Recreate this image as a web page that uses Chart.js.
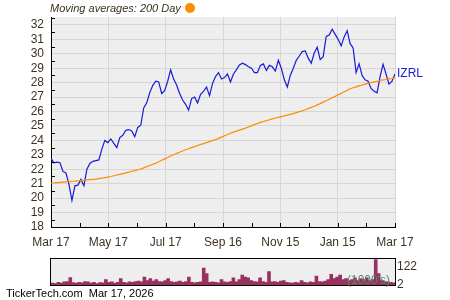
<!DOCTYPE html>
<html><head><meta charset="utf-8">
<script src="https://cdn.jsdelivr.net/npm/chart.js@4"></script>
<style>
html,body{margin:0;padding:0;background:#fff;width:450px;height:300px;overflow:hidden;font-family:"Liberation Sans",Arial,sans-serif;}
#main{position:absolute;left:0;top:0;}
#vol{position:absolute;left:0;top:250px;}
.t{position:absolute;white-space:pre;line-height:1;}
</style></head><body>
<canvas id="main" width="450" height="250"></canvas>
<canvas id="vol" width="450" height="50"></canvas>
<div class="t" style="left:50px;top:3px;font-size:11px;font-style:italic;color:#3a3020;">Moving averages: 200 Day</div>
<div style="position:absolute;left:185px;top:3px;width:10px;height:10px;border-radius:50%;background:#ff8c00;"></div>
<div class="t" style="left:6px;top:288px;font-size:11px;color:#000;">TickerTech.com  Mar 17, 2026</div>
<div class="t" style="left:347px;top:274px;font-size:12px;color:#4d8b6b;">(1000's)</div>
<script>
const symbol = 'IZRL';
const tickLabels = ['Mar 17','May 17','Jul 17','Sep 16','Nov 15','Jan 15','Mar 17'];
const price = [22.75,22.45,22.5,22.45,21.85,21.75,20.95,19.85,20.85,20.9,21.3,20.85,22.0,22.4,22.55,22.6,22.65,23.4,24.0,23.85,
24.1,23.8,23.5,24.2,24.35,24.7,24.75,24.65,24.25,24.9,25.05,26.25,26.6,27.3,27.8,28.1,28.05,27.25,27.45,28.1,
28.88,28.25,27.84,27.25,26.8,26.5,26.1,26.9,27.0,26.6,27.2,27.4,27.7,27.1,27.95,28.42,28.7,28.25,28.35,28.6,
28.05,28.6,28.9,29.23,29.35,29.25,29.1,29.0,28.7,28.7,29.2,29.3,28.85,29.2,29.1,28.8,29.55,29.0,28.2,27.7,
28.5,29.0,29.55,29.85,30.15,30.2,29.7,29.35,30.05,30.45,29.6,29.8,31.2,31.3,31.7,31.35,31.0,30.55,31.17,31.6,
30.7,30.4,28.7,29.3,28.5,28.2,28.1,27.6,27.4,27.3,28.4,29.28,28.6,27.9,28.1,28.6];
const ma200 = [21.05,21.06,21.08,21.09,21.11,21.13,21.15,21.17,21.18,21.20,21.22,21.24,21.26,21.28,21.30,21.32,21.35,21.38,21.42,21.46,
21.50,21.55,21.60,21.65,21.70,21.75,21.80,21.86,21.91,21.96,22.02,22.10,22.18,22.26,22.34,22.42,22.52,22.62,22.72,22.82,
22.92,23.01,23.10,23.18,23.27,23.35,23.42,23.50,23.57,23.65,23.72,23.78,23.85,23.92,23.98,24.05,24.14,24.23,24.32,24.41,
24.50,24.57,24.64,24.71,24.78,24.85,24.93,25.01,25.09,25.17,25.25,25.31,25.37,25.43,25.49,25.55,25.60,25.65,25.70,25.75,
25.80,25.86,25.92,25.99,26.05,26.12,26.20,26.29,26.37,26.46,26.55,26.65,26.75,26.85,26.95,27.05,27.16,27.26,27.37,27.47,
27.58,27.65,27.71,27.78,27.84,27.90,27.95,28.00,28.05,28.10,28.15,28.19,28.22,28.26,28.29,28.33];
const volume = [12,10,17,12,20,23,48,15,12,17,14,23,20,12,17,10,15,14,35,17,
20,12,17,41,17,14,20,17,23,26,20,52,29,41,26,35,23,20,29,41,
23,17,20,26,17,23,52,17,14,17,20,110,75,17,20,17,14,35,20,17,
23,46,20,35,64,52,46,29,23,20,46,23,17,87,20,23,17,26,29,17,
14,12,17,14,29,17,14,20,17,58,23,20,26,35,70,41,52,64,35,41,
29,35,46,29,41,35,46,29,35,170,75,29,23,20,17,14];
const volTicks = [2,122];
const yMin = 18, yMax = 32.55;

Chart.defaults.font.family = '"Liberation Sans", Arial, sans-serif';
const N = price.length;
const idx = price.map((_, i) => i);
const txtColor = '#3d3321';

const bgPlugin = {id:'bg', beforeDraw(chart){const {ctx, chartArea:a} = chart; ctx.save(); ctx.fillStyle='#eeeeee'; ctx.fillRect(a.left, a.top, a.right-a.left, a.bottom-a.top); ctx.restore();}};
const inTicks = {id:'inTicks', afterDraw(chart){
  const {ctx, chartArea:a, scales:{x, y}} = chart;
  ctx.save(); ctx.strokeStyle='#000'; ctx.lineWidth=1; ctx.beginPath();
  for (let v = yMin + 0.5; v < yMax; v += 1) { const py = Math.round(y.getPixelForValue(v)) + 0.5; ctx.moveTo(a.left, py); ctx.lineTo(a.left + 4, py); }
  for (let k = 0; k <= 12; k++) { const px = Math.round(x.getPixelForValue(k*(N-1)/12)) + 0.5; ctx.moveTo(px, a.bottom); ctx.lineTo(px, a.bottom - 4); }
  ctx.stroke();
  ctx.fillStyle = '#1a1ad8'; ctx.font = '12px "Liberation Sans", Arial, sans-serif'; ctx.textBaseline = 'middle'; ctx.textAlign = 'left';
  ctx.fillText(symbol, a.right + 2, y.getPixelForValue(price[N-1]));
  ctx.restore();
}};

new Chart(document.getElementById('main'), {
  type: 'line',
  data: { datasets: [
    {data: ma200.map((v,i)=>({x:i,y:v})), borderColor:'#ff8c00', borderWidth:1.2, pointRadius:0, tension:0, order:0},
    {data: price.map((v,i)=>({x:i,y:v})), borderColor:'#1a1ad8', borderWidth:1.2, pointRadius:0, tension:0, order:1}
  ]},
  options: {
    responsive:false, animation:false,
    layout:{padding:{left:0,right:55,top:17,bottom:0}},
    plugins:{legend:{display:false}, tooltip:{enabled:false}},
    scales:{
      x:{type:'linear', min:0, max:N-1,
        afterBuildTicks: s => { s.ticks = tickLabels.map((_,k)=>({value: k*(N-1)/(tickLabels.length-1)})); },
        ticks:{callback:(v,i)=>tickLabels[i], autoSkip:false, maxRotation:0, padding:8, font:{size:12}, color:txtColor},
        grid:{color:c => c.index===0 ? 'rgba(0,0,0,0)' : '#d6d6d6', drawTicks:false},
        border:{display:true, color:'#000', width:1},
        afterFit: s => { s.height = 23; }},
      y:{min:yMin, max:yMax,
        afterBuildTicks: s => { const t=[]; for (let v=yMin; v<=32; v+=1) t.push({value:v}); s.ticks = t; },
        ticks:{padding:7, font:{size:12}, color:txtColor, autoSkip:false},
        grid:{color:'#d6d6d6', drawTicks:false},
        border:{display:true, color:'#000', width:1},
        afterFit: s => { s.width = 51; }}
    }
  },
  plugins:[bgPlugin, inTicks]
});

const volFrame = {id:'volFrame', afterDraw(chart){const {ctx, chartArea:a} = chart; ctx.save(); ctx.strokeStyle='#000'; ctx.lineWidth=1; ctx.strokeRect(Math.round(a.left)-0.5, Math.round(a.top)-0.5, Math.round(a.right-a.left)+1, Math.round(a.bottom-a.top)+1); ctx.restore();}};

new Chart(document.getElementById('vol'), {
  type:'bar',
  data:{labels: idx, datasets:[{data: volume, backgroundColor:'#9a3060', barPercentage:1, categoryPercentage:1, borderWidth:0}]},
  options:{responsive:false, animation:false,
    layout:{padding:{left:51,right:0,top:6,bottom:15}},
    plugins:{legend:{display:false}, tooltip:{enabled:false}},
    scales:{
      x:{display:false},
      y:{position:'right', min:0, max:168,
        afterBuildTicks: s => { s.ticks = volTicks.map(v=>({value:v})); },
        ticks:{padding:2, font:{size:12}, color:txtColor, autoSkip:false},
        grid:{display:false, drawTicks:false}, border:{display:false},
        afterFit: s => { s.width = 55; }}
    }},
  plugins:[bgPlugin, volFrame]
});
</script>
</body></html>
